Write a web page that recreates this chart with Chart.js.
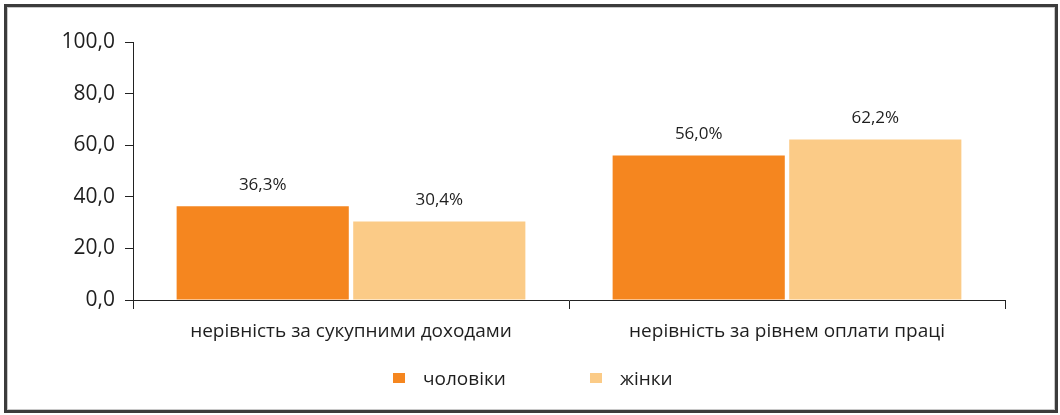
<!DOCTYPE html>
<html><head><meta charset="utf-8">
<script src="https://cdn.jsdelivr.net/npm/chart.js@4.4.0/dist/chart.umd.min.js"></script>
<style>
html,body{margin:0;padding:0;background:#fff;}
#wrap{position:relative;width:1060px;height:415px;overflow:hidden;background:#fff;}
#c{position:absolute;left:0;top:0;}
#frame{position:absolute;left:4px;top:4px;width:1048px;height:403px;border:3px solid #3c3c3c;box-shadow:inset 0 0 0 1px #c8c8c8;pointer-events:none;}
.li{position:absolute;display:flex;align-items:center;white-space:nowrap;font-family:'Open Sans',sans-serif;font-size:19px;line-height:20px;color:#1e1e1e;}
.sw{width:12px;height:10px;margin-right:18px;}
</style>
</head><body>
<div id="wrap">
<canvas id="c" width="1060" height="415"></canvas>
<div id="frame"></div>
<div id="legend"></div>
</div>
<script>
const categories = ['нерівність за сукупними доходами', 'нерівність за рівнем оплати праці'];
const seriesNames = ['чоловіки', 'жінки'];
const menValues = [36.3, 56.0];
const womenValues = [30.4, 62.2];
const yTicks = [0, 20, 40, 60, 80, 100];
const seriesColors = ['#F5861F', '#FBCB87'];

const fmt = v => v.toFixed(1).replace('.', ',');

const valueLabels = {
  id: 'valueLabels',
  afterDatasetsDraw(chart) {
    const ctx = chart.ctx;
    ctx.save();
    ctx.font = '17px "Open Sans"';
    ctx.fillStyle = '#1e1e1e';
    ctx.textAlign = 'center';
    ctx.textBaseline = 'middle';
    chart.data.datasets.forEach((ds, i) => {
      chart.getDatasetMeta(i).data.forEach((bar, j) => {
        ctx.fillText(fmt(ds.data[j]) + '%', bar.x, bar.y - 21);
      });
    });
    ctx.restore();
  }
};

const chart = new Chart(document.getElementById('c'), {
  type: 'bar',
  data: {
    labels: categories,
    datasets: [
      { label: seriesNames[0], data: menValues, backgroundColor: seriesColors[0], borderWidth: 0 },
      { label: seriesNames[1], data: womenValues, backgroundColor: seriesColors[1], borderWidth: 0 }
    ]
  },
  options: {
    responsive: false,
    animation: false,
    layout: { padding: { left: 0, right: 55, top: 42, bottom: 0 } },
    datasets: { bar: { categoryPercentage: 0.81, barPercentage: 0.975 } },
    plugins: { legend: { display: false }, tooltip: { enabled: false } },
    scales: {
      x: {
        grid: { offset: true, drawOnChartArea: false, drawTicks: true, tickLength: 9, color: '#222', lineWidth: 1 },
        border: { display: true, color: '#222', width: 1 },
        ticks: { font: { family: 'Open Sans', size: 19 }, color: '#1e1e1e', padding: 11, maxRotation: 0, autoSkip: false },
        afterFit: s => { s.height = 115; }
      },
      y: {
        min: 0, max: 100,
        afterBuildTicks: s => { s.ticks = yTicks.map(v => ({ value: v })); },
        grid: { drawOnChartArea: false, drawTicks: true, tickLength: 8, color: '#222', lineWidth: 1 },
        border: { display: true, color: '#222', width: 1 },
        ticks: { font: { family: 'Open Sans', size: 21 }, color: '#1e1e1e', padding: 10, callback: v => fmt(v) },
        afterFit: s => { s.width = 133; }
      }
    }
  },
  plugins: [valueLabels]
});

// legend built from chart datasets
const legendLefts = [393, 590];
const legendEl = document.getElementById('legend');
chart.data.datasets.forEach((ds, i) => {
  const item = document.createElement('div');
  item.className = 'li';
  item.style.left = legendLefts[i] + 'px';
  item.style.top = '368px';
  const sw = document.createElement('span');
  sw.className = 'sw';
  sw.style.background = ds.backgroundColor;
  const tx = document.createElement('span');
  tx.textContent = ds.label;
  item.appendChild(sw); item.appendChild(tx);
  legendEl.appendChild(item);
});
</script>
</body></html>
